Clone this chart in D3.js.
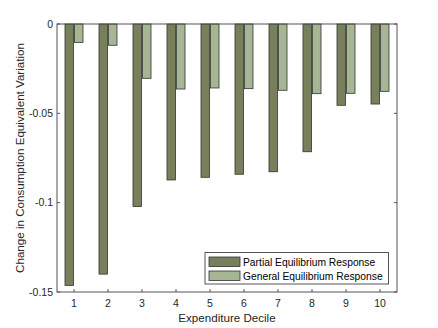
<!DOCTYPE html>
<html><head><meta charset="utf-8">
<script src="https://cdn.jsdelivr.net/npm/d3@7"></script>
<style>body{margin:0;background:#fff}svg{display:block;font-family:"Liberation Sans",Arial,sans-serif}</style>
</head><body><svg id="c" width="438" height="328"></svg>
<script>
const deciles = [1,2,3,4,5,6,7,8,9,10];
const partial = [-0.1463,-0.1400,-0.1022,-0.0873,-0.0858,-0.0841,-0.0827,-0.0715,-0.0455,-0.0448];
const general = [-0.0104,-0.0119,-0.0304,-0.0364,-0.0358,-0.0362,-0.0371,-0.0390,-0.0388,-0.0377];
const seriesNames = ["Partial Equilibrium Response","General Equilibrium Response"];
const yTicks = [0,-0.05,-0.1,-0.15];
const yTickLabels = ["0","-0.05","-0.1","-0.15"];

const colors = ["#77805a","#a6b594"];
const svg = d3.select("#c");
const L=57,R=397,T=24,B=292;
const x = d3.scaleLinear().domain([0.5,10.5]).range([L,R]);
const y = d3.scaleLinear().domain([-0.15,0]).range([B,T]);
const bw = 0.25;
const axisCol = "#555";

const groups = [partial, general];
groups.forEach((vals,si)=>{
  svg.append("g").selectAll("rect").data(vals).enter().append("rect")
    .attr("x",(d,i)=>x(deciles[i] + (si===0 ? -bw-0.015 : 0.015)))
    .attr("width", x(bw)-x(0))
    .attr("y", y(0))
    .attr("height", d=>y(d)-y(0))
    .attr("fill", colors[si]).attr("stroke","#333").attr("stroke-width",0.8);
});

// box
svg.append("rect").attr("x",L).attr("y",T).attr("width",R-L).attr("height",B-T)
  .attr("fill","none").attr("stroke",axisCol).attr("stroke-width",1);

const fs = 10.5;
// y ticks
yTicks.forEach((t,i)=>{
  svg.append("line").attr("x1",L).attr("x2",L+3).attr("y1",y(t)).attr("y2",y(t)).attr("stroke",axisCol);
  svg.append("line").attr("x1",R).attr("x2",R-3).attr("y1",y(t)).attr("y2",y(t)).attr("stroke",axisCol);
  svg.append("text").attr("x",L-4).attr("y",y(t)).attr("dy","0.35em").attr("text-anchor","end")
    .attr("font-size",fs).attr("fill","#262626").text(yTickLabels[i]);
});
// x ticks
deciles.forEach(d=>{
  svg.append("line").attr("x1",x(d)).attr("x2",x(d)).attr("y1",B).attr("y2",B-3).attr("stroke",axisCol);
  svg.append("line").attr("x1",x(d)).attr("x2",x(d)).attr("y1",T).attr("y2",T+3).attr("stroke",axisCol);
  svg.append("text").attr("x",x(d)).attr("y",B+14.5).attr("text-anchor","middle")
    .attr("font-size",fs).attr("fill","#262626").text(d);
});
svg.append("text").attr("x",(L+R)/2).attr("y",322).attr("text-anchor","middle")
  .attr("font-size",11.6).attr("fill","#262626").text("Expenditure Decile");
svg.append("text").attr("transform",`translate(23.5,${(T+B)/2}) rotate(-90)`).attr("text-anchor","middle")
  .attr("font-size",11.6).attr("fill","#262626").text("Change in Consumption Equivalent Variation");

// legend
const lg = svg.append("g");
lg.append("rect").attr("x",205).attr("y",252.5).attr("width",183.5).attr("height",31.5)
  .attr("fill","#fff").attr("stroke",axisCol).attr("stroke-width",1);
seriesNames.forEach((n,i)=>{
  const yy = 257 + i*14;
  lg.append("rect").attr("x",209).attr("y",yy).attr("width",31).attr("height",9.5)
    .attr("fill",colors[i]).attr("stroke","#333").attr("stroke-width",0.8);
  lg.append("text").attr("x",243).attr("y",yy+5).attr("dy","0.35em")
    .attr("font-size",10.3).attr("fill","#000").text(n);
});
</script></body></html>
